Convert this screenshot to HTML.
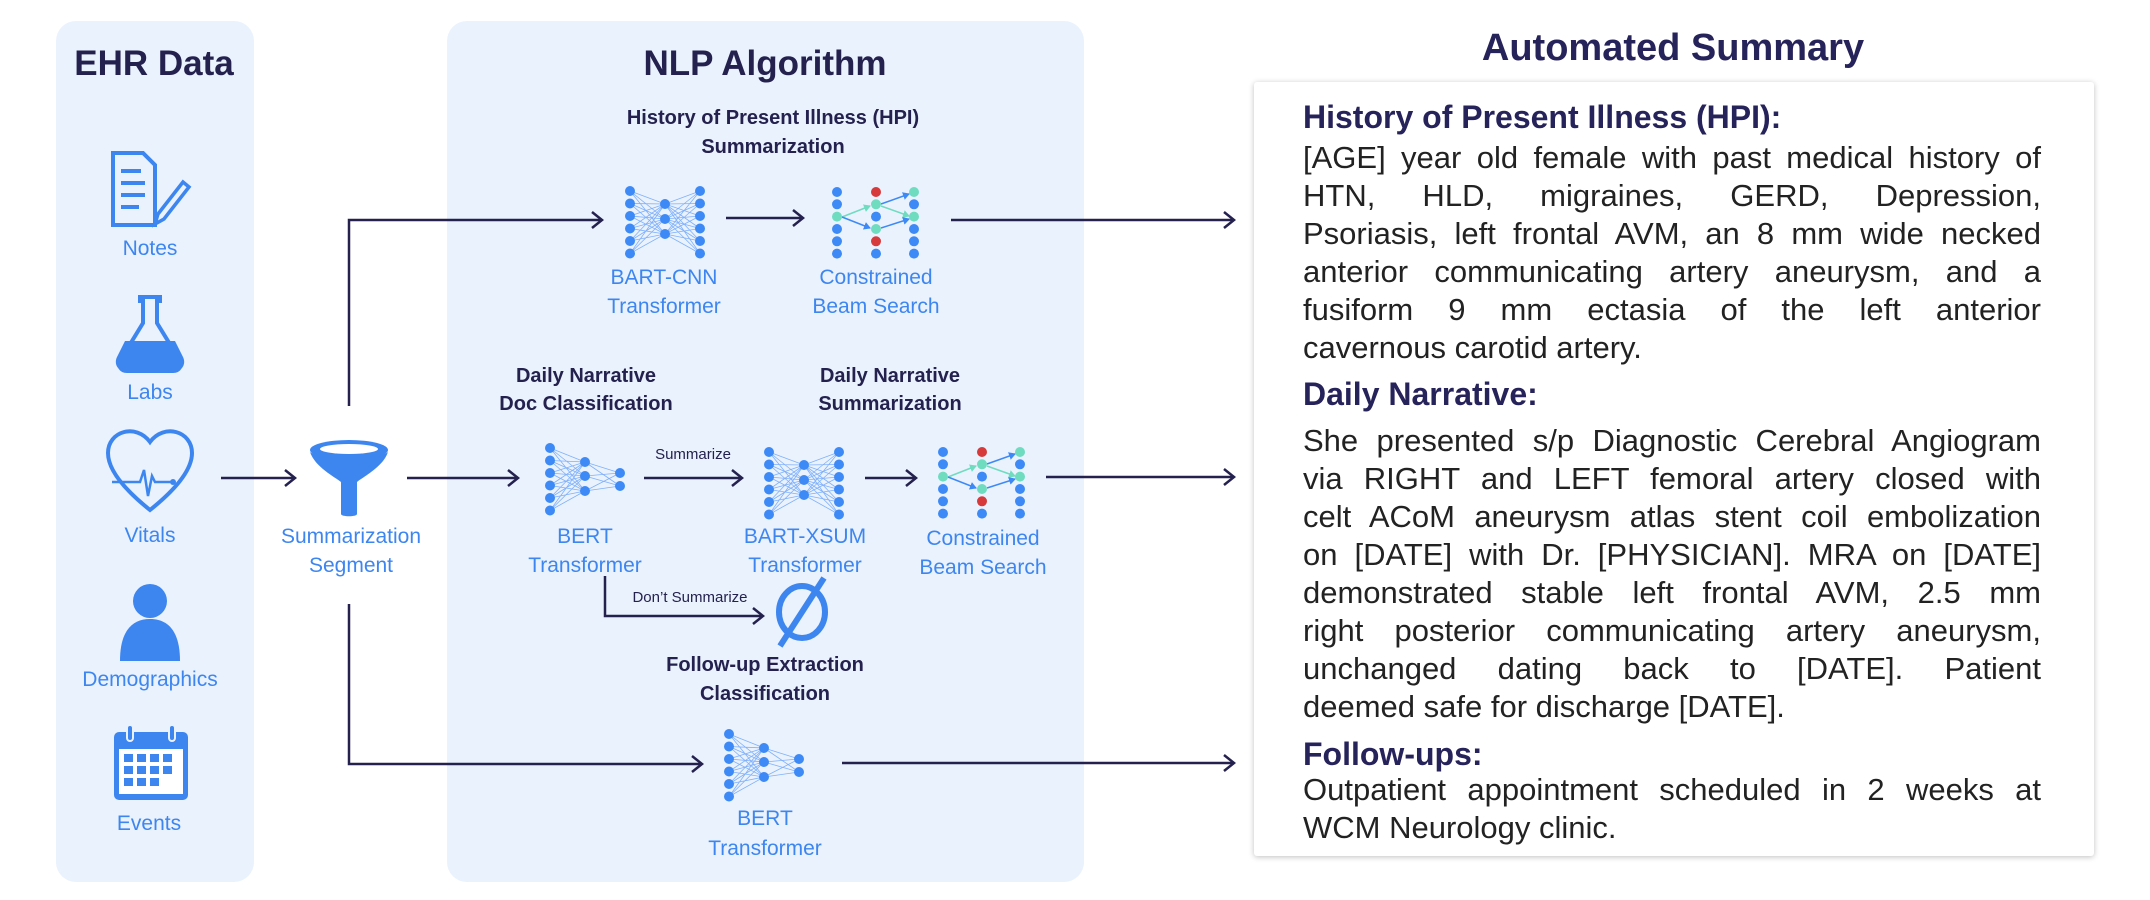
<!DOCTYPE html>
<html><head><meta charset="utf-8"><style>
body{margin:0;background:#fff;width:2150px;height:900px;overflow:hidden;position:relative;font-family:"Liberation Sans",sans-serif}
svg{position:absolute;left:0;top:0}
.box{position:absolute;left:1254px;top:82px;width:840px;height:774px;background:#fff;box-shadow:0 1px 6px rgba(0,0,0,0.25);border-radius:3px}
.t{position:absolute;left:1303px;width:738px;font-size:31px;line-height:38px;color:#222}
.t div{text-align:justify;text-align-last:justify;white-space:nowrap;height:38px}
.t div.l{text-align-last:left}
.h{position:absolute;left:1303px;font-size:32px;font-weight:bold;color:#26225a;line-height:38px}
</style></head><body>
<svg width="2150" height="900" viewBox="0 0 2150 900">
<defs>
<marker id="ar" markerWidth="14" markerHeight="20" refX="12" refY="10" orient="auto" markerUnits="userSpaceOnUse">
<path d="M2,2 L12,10 L2,18" fill="none" stroke="#24214f" stroke-width="2.5"/></marker>
<marker id="sa" markerWidth="8" markerHeight="8" refX="6" refY="4" orient="auto" markerUnits="userSpaceOnUse"><path d="M0,0 L7,4 L0,8z" fill="#3d8af7"/></marker>
<marker id="ta" markerWidth="8" markerHeight="8" refX="6" refY="4" orient="auto" markerUnits="userSpaceOnUse"><path d="M0,0 L7,4 L0,8z" fill="#6fdcc0"/></marker>
<g id="bart">
<g stroke="#7fb0fa" stroke-width="0.8">
<path d="M0,0L35,13M0,0L35,28M0,0L35,43M0,12.5L35,13M0,12.5L35,28M0,12.5L35,43M0,25L35,13M0,25L35,28M0,25L35,43M0,37.5L35,13M0,37.5L35,28M0,37.5L35,43M0,50L35,13M0,50L35,28M0,50L35,43M0,62.5L35,13M0,62.5L35,28M0,62.5L35,43"/>
<path d="M70,0L35,13M70,0L35,28M70,0L35,43M70,12.5L35,13M70,12.5L35,28M70,12.5L35,43M70,25L35,13M70,25L35,28M70,25L35,43M70,37.5L35,13M70,37.5L35,28M70,37.5L35,43M70,50L35,13M70,50L35,28M70,50L35,43M70,62.5L35,13M70,62.5L35,28M70,62.5L35,43"/>
</g>
<g fill="#3d8af7"><circle cx="0" cy="0" r="5"/><circle cx="0" cy="12.5" r="5"/><circle cx="0" cy="25" r="5"/><circle cx="0" cy="37.5" r="5"/><circle cx="0" cy="50" r="5"/><circle cx="0" cy="62.5" r="5"/>
<circle cx="35" cy="13" r="5"/><circle cx="35" cy="28" r="5"/><circle cx="35" cy="43" r="5"/>
<circle cx="70" cy="0" r="5"/><circle cx="70" cy="12.5" r="5"/><circle cx="70" cy="25" r="5"/><circle cx="70" cy="37.5" r="5"/><circle cx="70" cy="50" r="5"/><circle cx="70" cy="62.5" r="5"/></g>
</g>
<g id="bert">
<g stroke="#7fb0fa" stroke-width="0.8">
<path d="M0,0L35,14M0,0L35,28M0,0L35,43M0,12.5L35,14M0,12.5L35,28M0,12.5L35,43M0,25L35,14M0,25L35,28M0,25L35,43M0,37.5L35,14M0,37.5L35,28M0,37.5L35,43M0,50L35,14M0,50L35,28M0,50L35,43M0,62.5L35,14M0,62.5L35,28M0,62.5L35,43"/>
<path d="M70,25L35,14M70,25L35,28M70,25L35,43M70,38L35,14M70,38L35,28M70,38L35,43"/>
</g>
<g fill="#3d8af7"><circle cx="0" cy="0" r="5"/><circle cx="0" cy="12.5" r="5"/><circle cx="0" cy="25" r="5"/><circle cx="0" cy="37.5" r="5"/><circle cx="0" cy="50" r="5"/><circle cx="0" cy="62.5" r="5"/>
<circle cx="35" cy="14" r="5"/><circle cx="35" cy="28" r="5"/><circle cx="35" cy="43" r="5"/>
<circle cx="70" cy="25" r="5"/><circle cx="70" cy="38" r="5"/></g>
</g>
<g id="beam">
<path d="M5,25L33,14" stroke="#6fdcc0" stroke-width="1.5" marker-end="url(#ta)"/>
<path d="M5,25L33,36" stroke="#3d8af7" stroke-width="1.5" marker-end="url(#sa)"/>
<path d="M44,12L72,2" stroke="#3d8af7" stroke-width="1.5" marker-end="url(#sa)"/>
<path d="M44,14L72,24" stroke="#6fdcc0" stroke-width="1.5" marker-end="url(#ta)"/>
<path d="M44,36L72,27" stroke="#3d8af7" stroke-width="1.5" marker-end="url(#sa)"/>
<g fill="#3d8af7"><circle cx="0" cy="0" r="5"/><circle cx="0" cy="12.3" r="5"/><circle cx="0" cy="37" r="5"/><circle cx="0" cy="49.3" r="5"/><circle cx="0" cy="61.6" r="5"/>
<circle cx="39" cy="24.6" r="5"/><circle cx="39" cy="61.6" r="5"/>
<circle cx="77" cy="12.3" r="5"/><circle cx="77" cy="37" r="5"/><circle cx="77" cy="49.3" r="5"/><circle cx="77" cy="61.6" r="5"/></g>
<g fill="#6fdcc0"><circle cx="0" cy="24.6" r="5"/><circle cx="39" cy="12.3" r="5"/><circle cx="39" cy="37" r="5"/><circle cx="77" cy="0" r="5"/><circle cx="77" cy="24.6" r="5"/></g>
<g fill="#d63a3a"><circle cx="39" cy="0" r="5"/><circle cx="39" cy="49.3" r="5"/></g>
</g>
</defs>

<rect x="56" y="21" width="198" height="861" rx="20" fill="#eaf2fd"/>
<rect x="447" y="21" width="637" height="861" rx="20" fill="#eaf2fd"/>

<g font-family="Liberation Sans, sans-serif" text-anchor="middle">
<text x="154" y="75" font-size="35" font-weight="bold" fill="#24214f">EHR Data</text>
<text x="765" y="75" font-size="35" font-weight="bold" fill="#24214f">NLP Algorithm</text>
<text x="1673" y="60" font-size="38" font-weight="bold" fill="#26225a">Automated Summary</text>

<g font-size="21" fill="#3d86f0">
<text x="150" y="255">Notes</text><text x="150" y="399">Labs</text><text x="150" y="542">Vitals</text>
<text x="150" y="686">Demographics</text><text x="149" y="830">Events</text>
<text x="351" y="543">Summarization</text><text x="351" y="572">Segment</text>
<text x="664" y="284">BART-CNN</text><text x="664" y="313">Transformer</text>
<text x="876" y="284">Constrained</text><text x="876" y="313">Beam Search</text>
<text x="585" y="543">BERT</text><text x="585" y="572">Transformer</text>
<text x="805" y="543">BART-XSUM</text><text x="805" y="572">Transformer</text>
<text x="983" y="545">Constrained</text><text x="983" y="574">Beam Search</text>
<text x="765" y="825">BERT</text><text x="765" y="855">Transformer</text>
</g>
<g font-size="20" font-weight="bold" fill="#24214f">
<text x="773" y="124">History of Present Illness (HPI)</text><text x="773" y="153">Summarization</text>
<text x="586" y="382">Daily Narrative</text><text x="586" y="410">Doc Classification</text>
<text x="890" y="382">Daily Narrative</text><text x="890" y="410">Summarization</text>
<text x="765" y="671">Follow-up Extraction</text><text x="765" y="700">Classification</text>
</g>
<text x="693" y="459" font-size="15" fill="#24214f">Summarize</text>
<text x="690" y="602" font-size="15" fill="#24214f">Don’t Summarize</text>
</g>

<!-- icons -->
<g fill="none" stroke="#3d86f0" stroke-width="4">
<path d="M113,153 h30 l12,12 v60 h-42z"/><path d="M121,171h20M121,183h24M121,195h24M121,207h18"/>
<path d="M183,182 l-25,32 l-3,10 l9,-5 l25,-32z" stroke-width="3.5"/>
<path d="M150,510 c-10,-8 -42,-34 -42,-57 c0,-22 28,-30 42,-11 c14,-19 42,-11 42,11 c0,23 -32,49 -42,57z"/>
<path d="M112,482 h28 l4,-12 l4,26 l4,-20 l3,6 h18" stroke-width="2.5"/>
</g>
<circle cx="173" cy="482" r="3" fill="#3d86f0"/>
<path d="M140,297 h20 v4 h-3 v22 l22,36 c4,7 0,12 -6,12 h-46 c-6,0 -10,-5 -6,-12 l22,-36 v-22 h-3z" fill="none" stroke="#3d86f0" stroke-width="4"/>
<path d="M125,341 h50 l8,16 c3,6 0,13 -6,13 h-54 c-6,0 -9,-7 -6,-13z" fill="#3d86f0"/>
<circle cx="150" cy="601" r="17" fill="#3d86f0"/>
<path d="M120,661 c0,-30 12,-42 30,-42 c18,0 30,12 30,42z" fill="#3d86f0"/>
<rect x="114" y="732" width="74" height="68" rx="5" fill="#3d86f0"/>
<rect x="119" y="749" width="64" height="45" fill="#fff"/>
<g fill="#3d86f0"><rect x="124" y="754" width="9" height="8"/><rect x="137" y="754" width="9" height="8"/><rect x="150" y="754" width="9" height="8"/><rect x="163" y="754" width="9" height="8"/>
<rect x="124" y="766" width="9" height="8"/><rect x="137" y="766" width="9" height="8"/><rect x="150" y="766" width="9" height="8"/><rect x="163" y="766" width="9" height="8"/>
<rect x="124" y="778" width="9" height="8"/><rect x="137" y="778" width="9" height="8"/><rect x="150" y="778" width="9" height="8"/></g>
<rect x="127" y="725" width="6" height="16" rx="3" fill="#3d86f0" stroke="#eaf2fd" stroke-width="2"/>
<rect x="169" y="725" width="6" height="16" rx="3" fill="#3d86f0" stroke="#eaf2fd" stroke-width="2"/>

<!-- funnel -->
<ellipse cx="349" cy="450" rx="39" ry="10" fill="#3d86f0"/>
<ellipse cx="349" cy="449" rx="29" ry="5" fill="#fff"/>
<path d="M310,452 c5,15 25,25 31,30 v32 c0,3 16,3 16,0 v-32 c6,-5 26,-15 31,-30 c-10,8 -68,8 -78,0z" fill="#3d86f0"/>

<!-- connectors -->
<g fill="none" stroke="#24214f" stroke-width="2.5" marker-end="url(#ar)">
<path d="M221,478 H295"/>
<path d="M349,406 V220 H602"/>
<path d="M349,604 V764 H702"/>
<path d="M407,478 H518"/>
<path d="M726,218 H803"/>
<path d="M951,220 H1234"/>
<path d="M644,478 H742"/>
<path d="M865,478 H916"/>
<path d="M1046,477 H1234"/>
<path d="M605,576 V616 H763"/>
<path d="M842,763 H1234"/>
</g>

<use href="#bart" x="630" y="191"/>
<use href="#beam" x="837" y="192"/>
<use href="#bert" x="550" y="448"/>
<use href="#bart" x="769" y="452"/>
<use href="#beam" x="943" y="452"/>
<use href="#bert" x="729" y="734"/>

<!-- empty set -->
<ellipse cx="802" cy="612" rx="23" ry="26" fill="none" stroke="#3d86f0" stroke-width="6"/>
<path d="M780,646 L824,578" stroke="#3d86f0" stroke-width="6"/>
</svg>

<div class="box"></div>
<div class="h" style="top:98px">History of Present Illness (HPI):</div>
<div class="t" style="top:139px">
<div>[AGE] year old female with past medical history of</div>
<div>HTN, HLD, migraines, GERD, Depression,</div>
<div>Psoriasis, left frontal AVM, an 8 mm wide necked</div>
<div>anterior communicating artery aneurysm, and a</div>
<div>fusiform 9 mm ectasia of the left anterior</div>
<div class="l">cavernous carotid artery.</div>
</div>
<div class="h" style="top:375px">Daily Narrative:</div>
<div class="t" style="top:422px">
<div>She presented s/p Diagnostic Cerebral Angiogram</div>
<div>via RIGHT and LEFT femoral artery closed with</div>
<div>celt ACoM aneurysm atlas stent coil embolization</div>
<div>on [DATE] with Dr. [PHYSICIAN]. MRA on [DATE]</div>
<div>demonstrated stable left frontal AVM, 2.5 mm</div>
<div>right posterior communicating artery aneurysm,</div>
<div>unchanged dating back to [DATE]. Patient</div>
<div class="l">deemed safe for discharge [DATE].</div>
</div>
<div class="h" style="top:735px">Follow-ups:</div>
<div class="t" style="top:771px">
<div>Outpatient appointment scheduled in 2 weeks at</div>
<div class="l">WCM Neurology clinic.</div>
</div>
</body></html>
